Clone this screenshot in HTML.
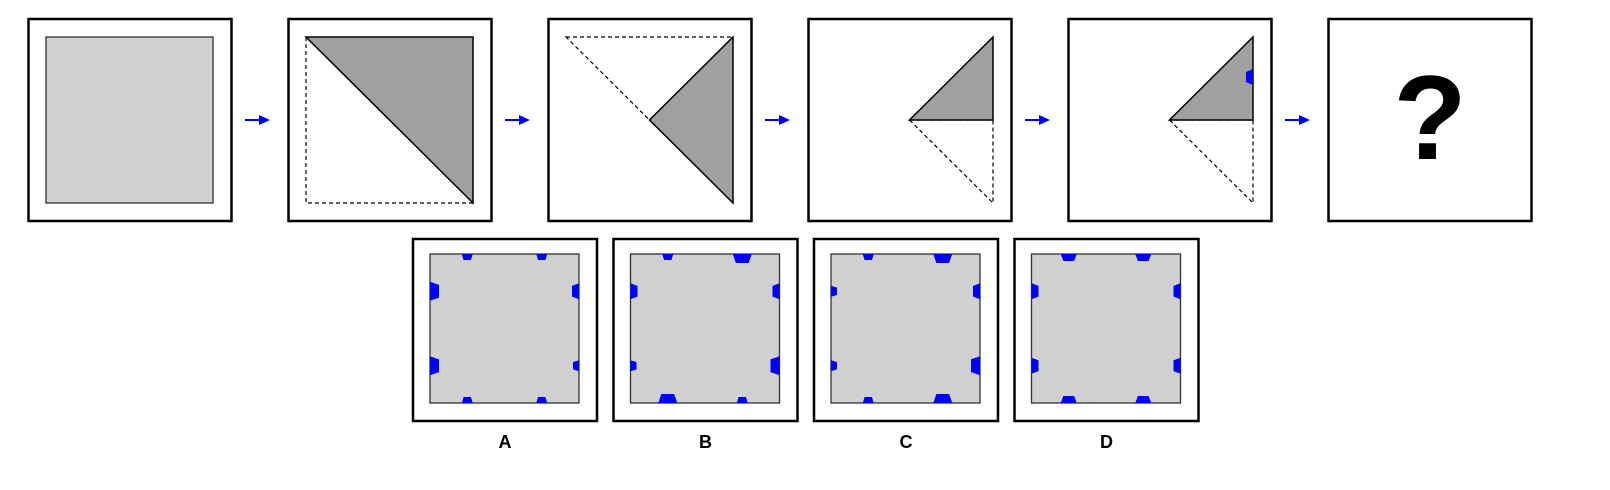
<!DOCTYPE html>
<html><head><meta charset="utf-8"><style>
html,body{margin:0;padding:0;background:#fff;width:1610px;height:490px;overflow:hidden}
svg{display:block}
text{font-family:"Liberation Sans",sans-serif;font-weight:bold}
</style></head><body>
<svg id="s" width="1610" height="490" viewBox="0 0 1610 490">
<g stroke="#000">
 <rect x="28.5" y="19" width="203" height="202" fill="#fff" stroke-width="2.5"/>
 <rect x="46" y="37" width="167" height="166" fill="#d0d0d0" stroke="#333" stroke-width="1.3"/>

 <rect x="288.5" y="19" width="203" height="202" fill="#fff" stroke-width="2.5"/>
 <polyline points="306,37 306,203 473,203" fill="none" stroke-width="1.2" stroke-dasharray="4,3"/>
 <polygon points="306,37 473,37 473,203" fill="#a0a0a0" stroke-width="1.5"/>

 <rect x="548.5" y="19" width="203" height="202" fill="#fff" stroke-width="2.5"/>
 <polygon points="566,37 733,37 649.5,120" fill="none" stroke-width="1.2" stroke-dasharray="4,3"/>
 <polygon points="733,37 649.5,120 733,203" fill="#a0a0a0" stroke-width="1.5"/>

 <rect x="808.5" y="19" width="203" height="202" fill="#fff" stroke-width="2.5"/>
 <polygon points="909.5,120 993,120 993,203" fill="none" stroke-width="1.2" stroke-dasharray="4,3"/>
 <polygon points="993,37 909.5,120 993,120" fill="#a0a0a0" stroke-width="1.5"/>

 <rect x="1068.5" y="19" width="203" height="202" fill="#fff" stroke-width="2.5"/>
 <polygon points="1169.5,120 1253,120 1253,203" fill="none" stroke-width="1.2" stroke-dasharray="4,3"/>
 <polygon points="1253,37 1169.5,120 1253,120" fill="#a0a0a0" stroke-width="1.5"/>
 <polygon points="1253,69 1253,85 1246,82 1246,72" fill="#0000ff" stroke="none"/>

 <rect x="1328.5" y="19" width="203" height="202" fill="#fff" stroke-width="2.5"/>
 <text x="1430" y="159" font-size="120" text-anchor="middle" fill="#000" stroke="none">?</text>
</g>
<g id="arrows"></g>
<g id="opts"></g>
</svg>
<script>
const NS='http://www.w3.org/2000/svg';
const svg=document.getElementById('s');
const arrowsG=document.getElementById('arrows');
for(let i=0;i<5;i++){
  const x=245+260*i;
  const l=document.createElementNS(NS,'line');
  l.setAttribute('x1',x);l.setAttribute('y1',120);l.setAttribute('x2',x+16);l.setAttribute('y2',120);
  l.setAttribute('stroke','#0000ff');l.setAttribute('stroke-width','2');
  
  
  arrowsG.appendChild(l);
  const p=document.createElementNS(NS,'polygon');
  p.setAttribute('points',`${x+14},115 ${x+25},120 ${x+14},125`);
  p.setAttribute('fill','#0000ff');
  
  
  arrowsG.appendChild(p);
}
// notch sizes: s=small, m=medium, l=large ; order: top(2), left(2), right(2), bottom(2)
const labels=['A','B','C','D'];
const optA=['s','s','l','l','m','s','s','s'];
const optB=['s','l','m','s','m','l','l','s'];
const optC=['s','l','s','s','m','l','s','l'];
const optD=['m','m','m','m','m','m','m','m'];
const opts=[optA,optB,optC,optD];
const sz={s:[11,6],m:[16,7],l:[19,9]};
const og=document.getElementById('opts');
opts.forEach((o,i)=>{
  const bx=413+200.5*i, by=239;
  const g=document.createElementNS(NS,'g');
  
  
  og.appendChild(g);
  const r=document.createElementNS(NS,'rect');
  r.setAttribute('x',bx);r.setAttribute('y',by);r.setAttribute('width',184);r.setAttribute('height',182);
  r.setAttribute('fill','#fff');r.setAttribute('stroke','#000');r.setAttribute('stroke-width','2.5');
  
  
  g.appendChild(r);
  const ix=bx+17, iy=by+15, S=149;
  const q=document.createElementNS(NS,'rect');
  q.setAttribute('x',ix);q.setAttribute('y',iy);q.setAttribute('width',S);q.setAttribute('height',S);
  q.setAttribute('fill','#d0d0d0');q.setAttribute('stroke','#333');q.setAttribute('stroke-width','1.3');
  
  
  g.appendChild(q);
  const f=[0.25,0.75];
  o.forEach((k,j)=>{
    const [w,d]=sz[k]; const side=Math.floor(j/2); const c=f[j%2]*S;
    let pts;
    if(side===0){const x=ix+c,y=iy;pts=[[x-w/2,y],[x+w/2,y],[x+w/3,y+d],[x-w/3,y+d]];}
    else if(side===1){const x=ix,y=iy+c;pts=[[x,y-w/2],[x,y+w/2],[x+d,y+w/3],[x+d,y-w/3]];}
    else if(side===2){const x=ix+S,y=iy+c;pts=[[x,y-w/2],[x,y+w/2],[x-d,y+w/3],[x-d,y-w/3]];}
    else {const x=ix+c,y=iy+S;pts=[[x-w/2,y],[x+w/2,y],[x+w/3,y-d],[x-w/3,y-d]];}
    const p=document.createElementNS(NS,'polygon');
    p.setAttribute('points',pts.map(a=>a.join(',')).join(' '));
    p.setAttribute('fill','#0000ff');
    
    
    g.appendChild(p);
  });
  const t=document.createElementNS(NS,'text');
  t.setAttribute('x',bx+92);t.setAttribute('y',448);t.setAttribute('font-size','18');
  t.setAttribute('text-anchor','middle');
  t.textContent=labels[i];
  
  
  g.appendChild(t);
});
</script>
</body></html>
